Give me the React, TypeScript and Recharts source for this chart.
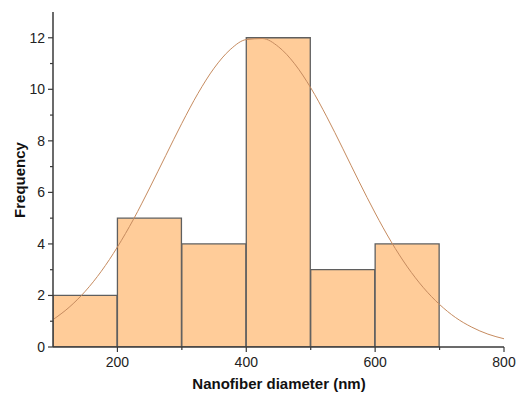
import React from "react";
import { ComposedChart, Bar, Line, XAxis, YAxis } from "recharts";

// histogram bins (centre of each 100 nm bin) and counts
const binCenters = [150, 250, 350, 450, 550, 650];
const frequencies = [2, 5, 4, 12, 3, 4];

// fitted normal curve
const curveX = [100, 125, 150, 175, 200, 225, 250, 275, 300, 325, 350, 375, 400, 425, 450, 475, 500, 525, 550, 575, 600, 625, 650, 675, 700, 725, 750, 775, 800];
const curveY = [1.06, 1.54, 2.16, 2.94, 3.88, 4.96, 6.17, 7.43, 8.68, 9.84, 10.82, 11.54, 11.93, 11.97, 11.65, 10.99, 10.06, 8.93, 7.69, 6.42, 5.2, 4.08, 3.11, 2.3, 1.65, 1.14, 0.77, 0.5, 0.32];

const xTicks = [200, 300, 400, 500, 600, 700, 800];
const yTicks = [0, 1, 2, 3, 4, 5, 6, 7, 8, 9, 10, 11, 12];

const histData = binCenters.map((d, i) => ({ d, freq: frequencies[i] }));
const curveData = curveX.map((d, i) => ({ d, fit: curveY[i] }));

const FONT = "'Liberation Sans', Arial, sans-serif";
const AXIS = "#3a3a3a";

const XTick = (props: any) => {
    const { x, y, payload } = props;
    const major = payload.value % 200 === 0;
    return (
        <g>
            <line x1={x} x2={x} y1={y} y2={y + (major ? 5 : 3)} stroke={AXIS} strokeWidth={1.2} />
            {major && (
                <text x={x} y={y + 20} textAnchor="middle" fontSize={14} fontFamily={FONT} fill="#222">
                    {payload.value}
                </text>
            )}
        </g>
    );
};

const YTick = (props: any) => {
    const { x, y, payload } = props;
    const major = payload.value % 2 === 0;
    return (
        <g>
            <line x1={x} x2={x - (major ? 5 : 3)} y1={y} y2={y} stroke={AXIS} strokeWidth={1.2} />
            {major && (
                <text x={x - 8} y={y + 5} textAnchor="end" fontSize={14} fontFamily={FONT} fill="#222">
                    {payload.value}
                </text>
            )}
        </g>
    );
};

export default function App() {
    return (
        <div style={{ position: "absolute", left: 0, top: 0, width: 518, height: 394, background: "#fff" }}>
            <ComposedChart
                width={518}
                height={394}
                data={histData}
                margin={{ top: 12, right: 14, bottom: 0, left: 0 }}
                barCategoryGap={0}
                barGap={0}
            >
                <XAxis
                    dataKey="d"
                    type="number"
                    domain={[100, 800]}
                    ticks={xTicks}
                    interval={0}
                    height={47}
                    tickSize={0}
                    tickMargin={0}
                    tickLine={false}
                    tick={<XTick />}
                    axisLine={{ stroke: AXIS, strokeWidth: 1.5 }}
                    allowDataOverflow
                />
                <XAxis
                    xAxisId="curve"
                    dataKey="d"
                    type="number"
                    orientation="top"
                    domain={[100, 800]}
                    height={0}
                    tick={false}
                    tickLine={false}
                    axisLine={{ stroke: "#555", strokeWidth: 2 }}
                    allowDataOverflow
                />
                <YAxis
                    type="number"
                    domain={[0, 13]}
                    ticks={yTicks}
                    interval={0}
                    width={53}
                    tickSize={0}
                    tickMargin={0}
                    tickLine={false}
                    tick={<YTick />}
                    axisLine={{ stroke: AXIS, strokeWidth: 1.5 }}
                    allowDataOverflow
                />
                <YAxis
                    yAxisId="right"
                    orientation="right"
                    type="number"
                    domain={[0, 13]}
                    width={0}
                    tick={false}
                    tickLine={false}
                    axisLine={{ stroke: "#555", strokeWidth: 2 }}
                />
                <Bar dataKey="freq" fill="#FFCC99" stroke="#5f5f5f" strokeWidth={1.3} isAnimationActive={false} />
                <Line
                    xAxisId="curve"
                    data={curveData}
                    dataKey="fit"
                    type="monotone"
                    stroke="#C68B5F"
                    strokeWidth={1}
                    dot={false}
                    isAnimationActive={false}
                />
                <text x={19} y={180} transform="rotate(-90 19 180)" textAnchor="middle" dominantBaseline="central" fontSize={15} fontWeight="bold" fontFamily={FONT} fill="#111">
                    Frequency
                </text>
                <text x={279} y={389} textAnchor="middle" fontSize={15} fontWeight="bold" fontFamily={FONT} fill="#111">
                    Nanofiber diameter (nm)
                </text>
            </ComposedChart>
        </div>
    );
}
